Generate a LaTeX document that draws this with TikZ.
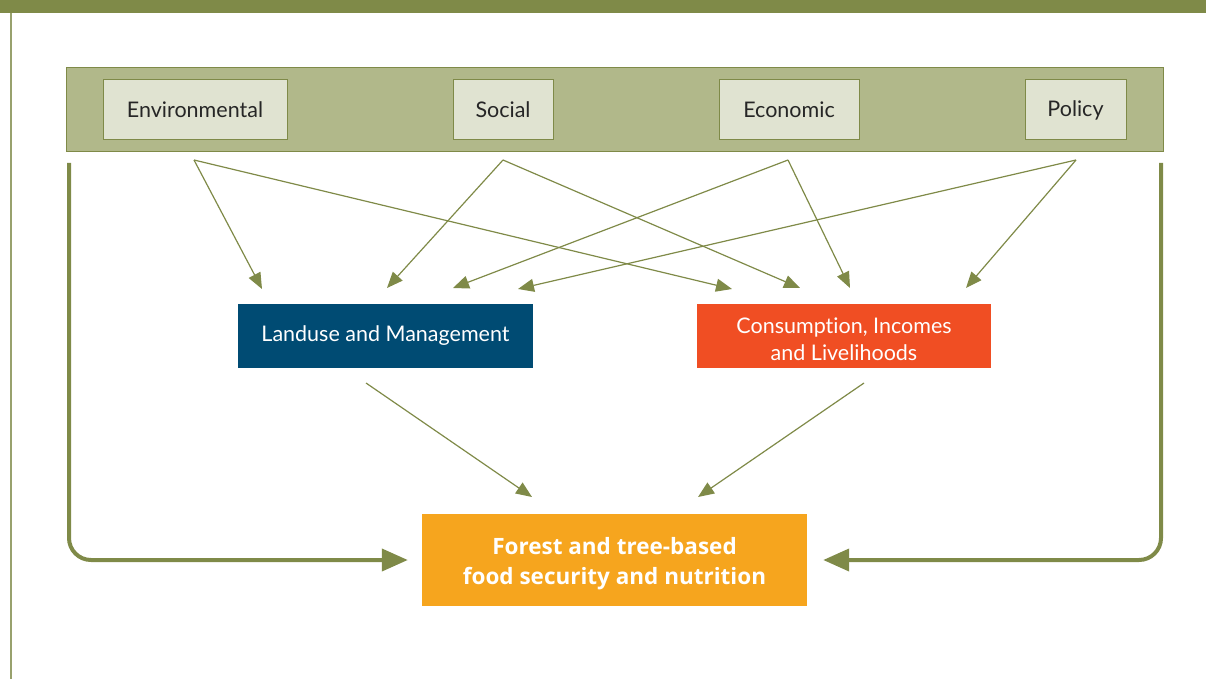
\documentclass[tikz,border=0pt]{standalone}
\usepackage{fontspec}
\setmainfont{Lato}[Ligatures=NoCommon]
\newfontfamily\boldfam{Open Sans}
\usetikzlibrary{arrows.meta}
\definecolor{olive}{HTML}{7F8A48}
\definecolor{olivelight}{HTML}{B1B88A}
\definecolor{boxlight}{HTML}{E0E3D1}
\definecolor{landblue}{HTML}{004B73}
\definecolor{consred}{HTML}{F04E23}
\definecolor{forestorg}{HTML}{F6A51E}
\tikzset{
  topbox/.style={draw=olive, line width=1pt, fill=boxlight, inner sep=0pt, font=\fontsize{21.5}{24}\selectfont, text=black!85},
  thin/.style={draw=olive, line width=1.2pt, -{Triangle[length=16pt,width=13pt]}},
  thick/.style={draw=olive, line width=4pt, rounded corners=22pt, -{Triangle[length=26pt,width=22pt]}},
}
\begin{document}
\begin{tikzpicture}[x=1pt,y=-1pt]
\useasboundingbox (0,0) rectangle (1206,679);
\fill[olive] (0,0) rectangle (1206,13);
\draw[olive!80, line width=2pt] (11,13) -- (11,679);
\node[draw=olive, line width=1pt, fill=olivelight, minimum width=1097pt, minimum height=84pt, inner sep=0pt] (band) at (614.5,110) {};
\node[topbox, minimum width=184pt, minimum height=60pt] (env) at (195,110) {\raisebox{-2pt}{Environmental}};
\node[topbox, minimum width=100pt, minimum height=60pt] (soc) at (503,110) {\raisebox{-2pt}{Social}};
\node[topbox, minimum width=140pt, minimum height=60pt] (eco) at (789,110) {\raisebox{-2pt}{Economic}};
\node[topbox, minimum width=101pt, minimum height=60pt] (pol) at (1075.5,110) {\raisebox{-2pt}{Policy}};
\node[fill=landblue, text=white, minimum width=295pt, minimum height=64pt, inner sep=0pt, font=\fontsize{21.5}{24}\selectfont] (land) at (385.5,336) {\raisebox{-3pt}{Landuse and Management}};
\node[fill=consred, text=white, minimum width=294pt, minimum height=64pt, inner sep=0pt, align=center, font=\fontsize{21.5}{27}\selectfont] (cons) at (844,336) {};
\node[text=white, align=center, font=\fontsize{21.5}{27}\selectfont, inner sep=0pt] (constext) at (844,339) {Consumption, Incomes\\and Livelihoods};
\node[fill=forestorg, minimum width=385pt, minimum height=92pt, inner sep=0pt] (forest) at (614.5,560) {};
\node[text=white, align=center, font=\boldfam\bfseries\fontsize{22.5}{30}\selectfont, inner sep=0pt] (foresttext) at (614.5,564) {Forest and tree-based\\food security and nutrition};
\coordinate (envS) at (194,160);
\coordinate (socS) at (503,160);
\coordinate (ecoS) at (788,160);
\coordinate (polS) at (1076,160);
\coordinate (l1) at (262,289);
\coordinate (l2) at (387,288);
\coordinate (l3) at (453,288);
\coordinate (l4) at (518,289);
\coordinate (c1) at (732,289);
\coordinate (c2) at (800,288);
\coordinate (c3) at (850,288);
\coordinate (c4) at (966,288);
\draw[thin] (envS) -- (l1);
\draw[thin] (envS) -- (c1);
\draw[thin] (socS) -- (l2);
\draw[thin] (socS) -- (c2);
\draw[thin] (ecoS) -- (l3);
\draw[thin] (ecoS) -- (c3);
\draw[thin] (polS) -- (l4);
\draw[thin] (polS) -- (c4);
\coordinate (landS) at (366,383);
\coordinate (consS) at (864,383);
\coordinate (f1) at (532,497);
\coordinate (f2) at (698,497);
\draw[thin] (landS) -- (f1);
\draw[thin] (consS) -- (f2);
\coordinate (lt) at (69,163);
\coordinate (rt) at (1161,163);
\draw[thick] (lt) -- (69,560) -- ([xshift=-14pt]forest.west);
\draw[thick] (rt) -- (1161,560) -- ([xshift=16pt]forest.east);
\end{tikzpicture}
\end{document}
